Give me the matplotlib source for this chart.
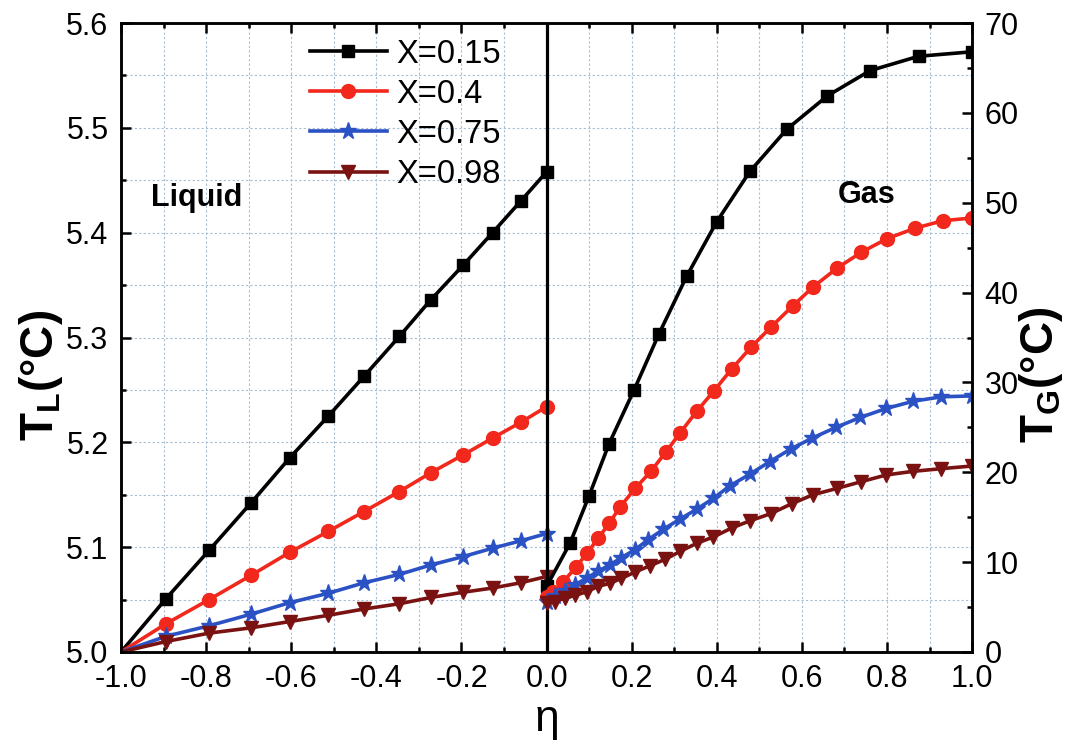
import numpy as np
import matplotlib
matplotlib.use('Agg')
import matplotlib.pyplot as plt
from matplotlib.ticker import MultipleLocator

plt.rcParams['font.family'] = ['Liberation Sans', 'DejaVu Sans']
plt.rcParams['axes.unicode_minus'] = False
plt.rcParams['mathtext.fontset'] = 'custom'
plt.rcParams['mathtext.rm'] = 'Liberation Sans'
plt.rcParams['mathtext.bf'] = 'Liberation Sans:bold'

# liquid side, eta in [-1, 0], T_L in degC (left axis)
eta_liq = [-1.0, -0.894, -0.793, -0.695, -0.604, -0.513, -0.429, -0.346,
           -0.272, -0.196, -0.127, -0.061, 0.0]
TL_015 = [5.0, 5.051, 5.097, 5.142, 5.185, 5.225, 5.263, 5.301, 5.336,
          5.369, 5.400, 5.430, 5.458]
TL_040 = [5.0, 5.027, 5.050, 5.073, 5.095, 5.115, 5.134, 5.153, 5.171,
          5.188, 5.204, 5.219, 5.234]
TL_075 = [5.0, 5.015, 5.025, 5.036, 5.047, 5.056, 5.066, 5.074, 5.083,
          5.091, 5.099, 5.106, 5.113]
TL_098 = [5.0, 5.010, 5.018, 5.023, 5.029, 5.035, 5.041, 5.046, 5.052,
          5.057, 5.061, 5.066, 5.072]

# gas side, eta in [0, 1], T_G in degC (right axis)
eta_gas_015 = [0.0, 0.055, 0.1, 0.147, 0.206, 0.264, 0.329, 0.4, 0.478,
               0.565, 0.66, 0.76, 0.874, 1.0]
TG_015 = [7.3, 12.1, 17.4, 23.2, 29.2, 35.4, 41.8, 47.9, 53.5, 58.2, 61.9,
          64.7, 66.3, 66.8]
eta_gas_040 = [0.0, 0.016, 0.039, 0.07, 0.096, 0.121, 0.147, 0.172, 0.208,
               0.245, 0.281, 0.314, 0.353, 0.394, 0.435, 0.48, 0.528, 0.578,
               0.627, 0.682, 0.74, 0.8, 0.865, 0.931, 1.0]
TG_040 = [6.1, 6.7, 7.8, 9.5, 11.05, 12.65, 14.3, 16.1, 18.2, 20.1, 22.3,
          24.4, 26.8, 29.1, 31.5, 33.9, 36.2, 38.5, 40.65, 42.7, 44.5, 46.0,
          47.15, 48.0, 48.3]
eta_gas_075 = [0.0, 0.02, 0.043, 0.067, 0.094, 0.121, 0.149, 0.176, 0.208,
               0.239, 0.274, 0.314, 0.353, 0.392, 0.431, 0.478, 0.525, 0.574,
               0.624, 0.68, 0.737, 0.798, 0.861, 0.928, 1.0]
TG_075 = [5.6, 6.2, 6.8, 7.5, 8.2, 9.0, 9.7, 10.5, 11.4, 12.5, 13.65, 14.8,
          15.9, 17.1, 18.5, 19.8, 21.2, 22.6, 23.8, 25.0, 26.1, 27.1, 27.9,
          28.4, 28.5]
eta_gas_098 = [0.0, 0.02, 0.043, 0.067, 0.094, 0.121, 0.149, 0.176, 0.208,
               0.243, 0.278, 0.314, 0.353, 0.392, 0.435, 0.478, 0.527, 0.576,
               0.626, 0.682, 0.739, 0.798, 0.86, 0.927, 1.0]
TG_098 = [5.4, 5.6, 6.0, 6.3, 6.7, 7.3, 7.65, 8.2, 8.9, 9.6, 10.3, 11.2,
          12.1, 12.8, 13.8, 14.6, 15.4, 16.5, 17.5, 18.2, 18.95, 19.7, 20.1,
          20.4, 20.7]

labels = ['X=0.15', 'X=0.4', 'X=0.75', 'X=0.98']
colors = ['black', '#f2281c', '#2b52c4', '#7a1212']
markers = ['s', 'o', '*', 'v']
msizes = [8.5, 10, 12.5, 10]

liq = [TL_015, TL_040, TL_075, TL_098]
gas = [(eta_gas_015, TG_015), (eta_gas_040, TG_040),
       (eta_gas_075, TG_075), (eta_gas_098, TG_098)]

fig = plt.figure(figsize=(10.73, 7.43), dpi=100)
ax = fig.add_axes([0.1128, 0.1225, 0.7932, 0.8465])
ax2 = ax.twinx()

handles = []
for i in range(4):
    h, = ax.plot(eta_liq, liq[i], color=colors[i], marker=markers[i],
                 ms=msizes[i], lw=2.6, markevery=range(1, len(eta_liq)))
    ax2.plot(gas[i][0], gas[i][1], color=colors[i], marker=markers[i],
             ms=msizes[i], lw=2.6)
    handles.append(h)

ax.axvline(0, color='black', lw=2.3, zorder=5)

ax.set_xlim(-1, 1)
ax.set_ylim(5.0, 5.6)
ax2.set_ylim(0, 70)

ax.xaxis.set_major_locator(MultipleLocator(0.2))
ax.xaxis.set_minor_locator(MultipleLocator(0.1))
ax.yaxis.set_major_locator(MultipleLocator(0.1))
ax.yaxis.set_minor_locator(MultipleLocator(0.05))
ax2.yaxis.set_major_locator(MultipleLocator(10))
ax2.yaxis.set_minor_locator(MultipleLocator(5))

ax.grid(True, which='both', color='#a9bdd0', ls=(0, (2, 2)), lw=0.8)
ax.set_axisbelow(True)

ax.tick_params(which='both', direction='in', top=True, right=False,
               labelsize=22, width=1.8, pad=9)
ax.tick_params(which='major', length=7)
ax.tick_params(which='minor', length=3.6)
ax2.tick_params(which='both', direction='in', labelsize=22, width=1.8, pad=9)
ax2.tick_params(which='major', length=7)
ax2.tick_params(which='minor', length=3.6)
for sp in ax.spines.values():
    sp.set_linewidth(1.8)
for sp in ax2.spines.values():
    sp.set_linewidth(1.8)

ax.set_xlabel('η', fontsize=32)
ax.set_ylabel(r'$\mathbf{T_L(°C)}$', fontsize=33)
ax2.set_ylabel(r'$\mathbf{T_G(°C)}$', fontsize=33, rotation=90)
ax.yaxis.set_label_coords(-0.066, 0.44)
ax2.yaxis.set_label_coords(1.053, 0.44)
ax.xaxis.set_label_coords(0.5, -0.075)

ax.text(-0.929, 5.433, 'Liquid', fontsize=22, fontweight='bold',
        va='center', ha='left')
ax.text(0.685, 5.436, 'Gas', fontsize=22, fontweight='bold',
        va='center', ha='left')

ax2.legend(handles, labels, loc='upper left', bbox_to_anchor=(0.289, 0.948),
           bbox_transform=fig.transFigure, frameon=False, fontsize=23.5,
           handlelength=2.35, handletextpad=0.3, labelspacing=0.28,
           borderpad=0, borderaxespad=0)

fig.savefig('out.png', dpi=100)
